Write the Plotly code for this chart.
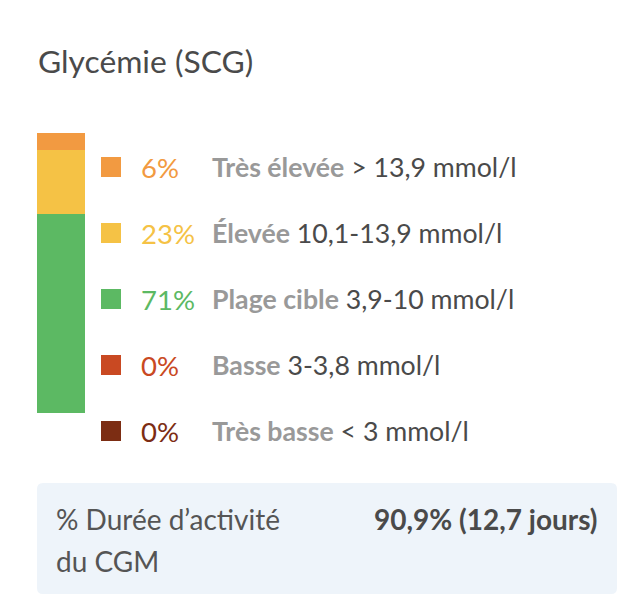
import plotly.graph_objects as go

# data, ordered from top row to bottom row
categories = ["Très élevée", "Élevée", "Plage cible", "Basse", "Très basse"]
ranges = ["> 13,9 mmol/l", "10,1-13,9 mmol/l", "3,9-10 mmol/l", "3-3,8 mmol/l", "< 3 mmol/l"]
percents = [6, 23, 71, 0, 0]
colors = ["#F29A41", "#F5C245", "#5CB963", "#C94922", "#7C2D13"]

title = "Glycémie (SCG)"
cgm_label = ["% Durée d’activité", "du CGM"]
cgm_value = "90,9% (12,7 jours)"

W, H = 634, 614
OFF = 8  # page body margin, so axis units equal window pixels
PW, PH = W - OFF, H - OFF
FONT = "Lato, 'Open Sans', sans-serif"


def px_x(v):
    return (v - OFF) / PW


def px_y(v):
    return 1 - (v - OFF) / PH


fig = go.Figure()

# stacked bar, bottom category first
for cat, pct, col in reversed(list(zip(categories, percents, colors))):
    fig.add_trace(go.Bar(
        x=["g"], y=[pct], marker=dict(color=col, line=dict(width=0)),
        xaxis="x2", yaxis="y2", showlegend=False, hoverinfo="skip", name=cat,
    ))

# legend rows (pixel layout on the main axis)
row_top, row_step = 167, 66
row_y = [row_top + i * row_step for i in range(len(categories))]
fig.add_trace(go.Scatter(
    x=[111] * len(categories), y=row_y, mode="markers",
    marker=dict(symbol="square", size=20, color=colors, line=dict(width=0)),
    showlegend=False, hoverinfo="skip",
))

annotations = []
for y, pct, col, cat, rng in zip(row_y, percents, colors, categories, ranges):
    annotations.append(dict(
        x=139, y=y, xref="x", yref="y", text=f"{pct}%", showarrow=False,
        xanchor="left", yanchor="middle", font=dict(family=FONT, size=27.5, color=col),
    ))
    rng_html = rng.replace(">", "&gt;").replace("<", "&lt;")
    annotations.append(dict(
        x=210, y=y, xref="x", yref="y",
        text=f"<b>{cat}</b> <span style='color:#4a4a4a'>{rng_html}</span>",
        showarrow=False, xanchor="left", yanchor="middle",
        font=dict(family=FONT, size=26.7, color="#999999"),
    ))

annotations.append(dict(
    x=36, y=61, xref="x", yref="y", text=title, showarrow=False,
    xanchor="left", yanchor="middle", font=dict(family=FONT, size=31.8, color="#4a4a4a"),
))
for i, line in enumerate(cgm_label):
    annotations.append(dict(
        x=54, y=519 + i * 42, xref="x", yref="y", text=line, showarrow=False,
        xanchor="left", yanchor="middle", font=dict(family=FONT, size=28, color="#555555"),
    ))
annotations.append(dict(
    x=600, y=519, xref="x", yref="y", text=f"<b>{cgm_value}</b>", showarrow=False,
    xanchor="right", yanchor="middle", font=dict(family=FONT, size=28, color="#4a4a4a"),
))

# rounded box behind the CGM line
x0, x1, y0, y1, r = 37, 617, 483, 594, 6
box_path = (f"M {x0+r},{y0} L {x1-r},{y0} Q {x1},{y0} {x1},{y0+r} "
            f"L {x1},{y1-r} Q {x1},{y1} {x1-r},{y1} L {x0+r},{y1} "
            f"Q {x0},{y1} {x0},{y1-r} L {x0},{y0+r} Q {x0},{y0} {x0+r},{y0} Z")

fig.update_layout(
    width=PW, height=PH, margin=dict(l=0, r=0, t=0, b=0),
    paper_bgcolor="white", plot_bgcolor="rgba(0,0,0,0)",
    barmode="stack", bargap=0,
    xaxis=dict(range=[OFF, W], visible=False, domain=[0, 1], fixedrange=True),
    yaxis=dict(range=[H, OFF], visible=False, domain=[0, 1], fixedrange=True),
    xaxis2=dict(domain=[px_x(37), px_x(85)], visible=False, anchor="y2"),
    yaxis2=dict(domain=[px_y(413), px_y(133)], range=[0, sum(percents)],
                visible=False, anchor="x2"),
    shapes=[dict(type="path", path=box_path, xref="x", yref="y",
                 fillcolor="#EEF4FA", line=dict(width=0), layer="below")],
    annotations=annotations,
)

fig.write_html("out.html")
